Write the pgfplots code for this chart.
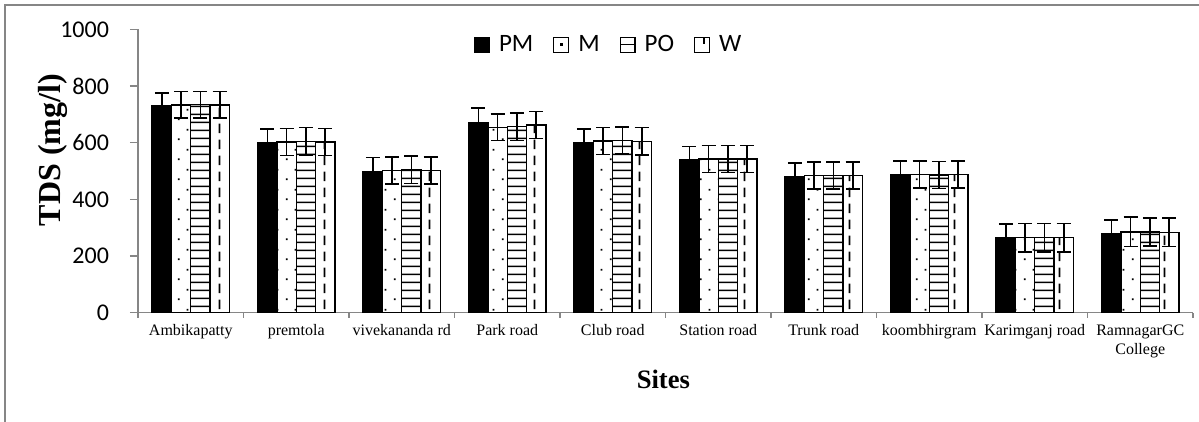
\documentclass[border=0pt]{standalone}
\usepackage{fontspec}
\setmainfont{Liberation Serif}
\newfontfamily\carlito{Carlito}
\usepackage{pgfplots}
\pgfplotsset{compat=1.18}
\usetikzlibrary{patterns}
\definecolor{axgray}{HTML}{868686}

\pgfdeclarepatternformonly{mdots}{\pgfqpoint{0pt}{0pt}}{\pgfqpoint{8.79pt}{10pt}}{\pgfqpoint{8.79pt}{10pt}}{%
  \pgfpathrectangle{\pgfqpoint{1pt}{1pt}}{\pgfqpoint{0.9pt}{0.9pt}}%
  \pgfpathrectangle{\pgfqpoint{5.4pt}{6pt}}{\pgfqpoint{0.9pt}{0.9pt}}%
  \pgfusepath{fill}}
\pgfdeclarepatternformonly{pohlines}{\pgfqpoint{0pt}{0pt}}{\pgfqpoint{4pt}{4pt}}{\pgfqpoint{4pt}{4pt}}{%
  \pgfsetlinewidth{0.8pt}%
  \pgfpathmoveto{\pgfqpoint{-0.5pt}{2pt}}\pgfpathlineto{\pgfqpoint{4.5pt}{2pt}}%
  \pgfusepath{stroke}}
\pgfdeclarepatternformonly{wdash}{\pgfqpoint{0pt}{0pt}}{\pgfqpoint{10.55pt}{8pt}}{\pgfqpoint{10.55pt}{8pt}}{%
  \pgfsetlinewidth{0.9pt}%
  \pgfpathmoveto{\pgfqpoint{5pt}{0.5pt}}\pgfpathlineto{\pgfqpoint{5pt}{5.5pt}}%
  \pgfusepath{stroke}}

\pgfplotstableread{
x PM   M    PO   W    ePM eM eP eW
0 729  733  734  733  47  47 47 47
1 599  602  605  602  50  48 48 48
2 498  502  504  502  50  48 48 48
3 672  654  656  662  50  47 48 48
4 599  606  607  605  49  48 48 48
5 539  542  542  542  48  48 48 48
6 479  484  484  484  50  48 48 48
7 488  488  486  488  48  48 48 48
8 263  265  265  265  50  50 50 50
9 277  285  285  284  50  52 50 50
}\datatab

\begin{document}
\begin{tikzpicture}
\begin{axis}[
  name=ax,
  scale only axis,
  width=527.5pt, height=141.7pt,
  ymin=0, ymax=1000,
  xmin=-0.5, xmax=9.5,
  ybar=0pt, bar width=9.65pt,
  axis x line*=bottom, axis y line*=left,
  axis line style={axgray, line width=0.7pt},
  ytick={0,200,...,1000},
  xtick={0,...,9},
  xticklabels={Ambikapatty,premtola,vivekananda rd,Park road,Club road,Station road,Trunk road,koombhirgram,Karimganj road,{RamnagarGC\\College}},
  minor xtick={-0.5,0.5,...,9.5},
  major x tick style={draw=none},
  minor x tick style={axgray, line width=0.7pt},
  y tick style={axgray, line width=0.7pt},
  tick align=outside,
  major tick length=4pt, minor tick length=2.5pt,
  xticklabel style={font=\fontsize{8}{9.5}\selectfont, align=center, yshift=1.5pt, text depth=0pt},
  yticklabel style={font=\carlito\fontsize{12}{14}\selectfont, xshift=-7pt},
  /pgf/number format/assume math mode=true,
  /pgf/number format/1000 sep={},
  ylabel={\textbf{TDS (mg/l)}},
  ylabel style={font=\fontsize{16}{18}\selectfont, at={(axis description cs:-0.081,0.574)}, anchor=center, rotate=0},
  xlabel={\textbf{Sites}},
  xlabel style={font=\fontsize{13.3}{15}\selectfont, at={(axis description cs:0.498,-0.237)}, anchor=center},
  legend columns=4,
  legend style={draw=none, fill=none, at={(0.447,0.945)}, anchor=center,
    font=\carlito\fontsize{12.5}{14}\selectfont,
    /tikz/every odd column/.append style={column sep=2.5pt},
    /tikz/every even column/.append style={column sep=8pt}},
  error bars/y dir=both, error bars/y explicit,
  error bars/error mark options={rotate=90, mark size=3.5pt, line width=0.8pt, black},
  error bars/error bar style={line width=0.8pt, black},
  every axis plot/.append style={draw=black, line width=0.7pt},
]
\addplot[fill=black, forget plot, bar shift=-14.475pt]
  table[x=x, y=PM, y error=ePM] {\datatab};
\addplot[fill=white, postaction={pattern=mdots}, forget plot, bar shift=-4.825pt]
  table[x=x, y=M, y error=eM] {\datatab};
\addplot[fill=white, postaction={pattern=pohlines}, forget plot, bar shift=4.825pt]
  table[x=x, y=PO, y error=eP] {\datatab};
\addplot[fill=white, postaction={pattern=wdash}, forget plot, bar shift=14.475pt]
  table[x=x, y=W, y error=eW] {\datatab};
\addlegendimage{legend image code/.code={\fill[black] (-3pt,-3.7pt) rectangle (4.4pt,3.7pt);}}
\addlegendentry{PM}
\addlegendimage{legend image code/.code={\draw[black, fill=white, line width=0.6pt] (-3pt,-3.7pt) rectangle (4.4pt,3.7pt); \fill[black] (0.3pt,-0.4pt) rectangle (1.1pt,0.4pt);}}
\addlegendentry{M}
\addlegendimage{legend image code/.code={\draw[black, fill=white, line width=0.6pt] (-3pt,-3.7pt) rectangle (4.4pt,3.7pt); \draw[black, line width=0.6pt] (-3pt,0pt) -- (4.4pt,0pt);}}
\addlegendentry{PO}
\addlegendimage{legend image code/.code={\draw[black, fill=white, line width=0.6pt] (-3pt,-3.7pt) rectangle (4.4pt,3.7pt); \draw[black, line width=1pt] (1.8pt,3.7pt) -- (1.8pt,0.5pt);}}
\addlegendentry{W}
\end{axis}
\pgfresetboundingbox
\path[use as bounding box] (-69pt,-54.65pt) rectangle (530.5pt,156.35pt);
\draw[axgray, line width=0.6pt] (-66.5pt,-60pt) -- (-66.5pt,153.85pt) -- (535pt,153.85pt);
\end{tikzpicture}
\end{document}
